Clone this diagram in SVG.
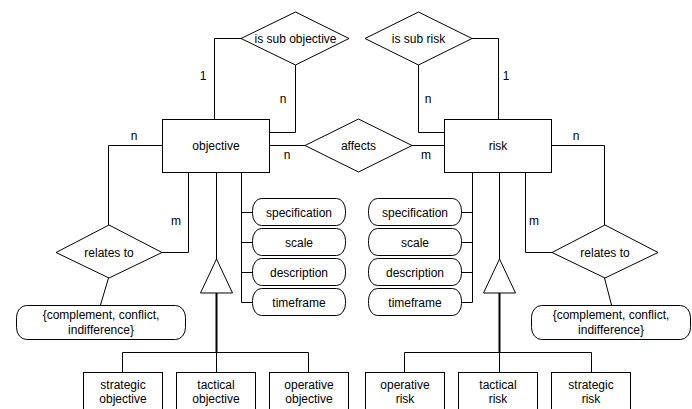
<svg xmlns="http://www.w3.org/2000/svg" width="692" height="409" viewBox="0 0 692 409">
<style>
.s{fill:#fff;stroke:#000;stroke-width:1}
.l{fill:none;stroke:#000;stroke-width:1}
.t{fill:none;stroke:#000;stroke-width:2}
text{font-family:"Liberation Sans",Arial,sans-serif;font-size:12px;fill:#000;text-anchor:middle}
</style>
<rect width="692" height="409" fill="#fff"/>
<g id="connectors">
<polyline class="l" points="241.5,38.5 214.5,38.5 214.5,119"/>
<polyline class="l" points="295.5,65 295.5,132.5 269,132.5"/>
<polyline class="l" points="472,38.5 498.5,38.5 498.5,119"/>
<polyline class="l" points="418.5,65 418.5,132.5 444,132.5"/>
<line class="l" x1="269" y1="145.5" x2="305" y2="145.5"/>
<line class="l" x1="412" y1="145.5" x2="444" y2="145.5"/>
<polyline class="l" points="162,145.5 108.5,145.5 108.5,225"/>
<polyline class="l" points="551,145.5 604.5,145.5 604.5,225"/>
<polyline class="l" points="162,252.5 188.5,252.5 188.5,172"/>
<polyline class="l" points="552,252.5 525.5,252.5 525.5,172"/>
<line class="l" x1="108.5" y1="278" x2="100.5" y2="305"/>
<line class="l" x1="604.5" y1="278" x2="611.5" y2="305"/>
<line class="l" x1="216.5" y1="172" x2="216.5" y2="259"/>
<line class="l" x1="499.5" y1="172" x2="499.5" y2="259"/>
<polyline class="l" points="241.5,172 241.5,302.5 252,302.5"/>
<line class="l" x1="241.5" y1="212.5" x2="252" y2="212.5"/>
<line class="l" x1="241.5" y1="242.5" x2="252" y2="242.5"/>
<line class="l" x1="241.5" y1="272.5" x2="252" y2="272.5"/>
<polyline class="l" points="472.5,172 472.5,302.5 461,302.5"/>
<line class="l" x1="472.5" y1="212.5" x2="461" y2="212.5"/>
<line class="l" x1="472.5" y1="242.5" x2="461" y2="242.5"/>
<line class="l" x1="472.5" y1="272.5" x2="461" y2="272.5"/>
<line class="t" x1="216.5" y1="293" x2="216.5" y2="352"/>
<line class="t" x1="499.5" y1="293" x2="499.5" y2="352"/>
<polyline class="l" points="122.5,372 122.5,352.5 308.5,352.5 308.5,372"/>
<line class="l" x1="216.5" y1="352" x2="216.5" y2="372"/>
<polyline class="l" points="404.5,372 404.5,352.5 591.5,352.5 591.5,372"/>
<line class="l" x1="499.5" y1="352" x2="499.5" y2="372"/>
</g>
<g id="labels">
<text x="203" y="80">1</text>
<text x="283" y="103">n</text>
<text x="134" y="140">n</text>
<text x="287" y="159">n</text>
<text x="176" y="225">m</text>
<text x="506" y="80">1</text>
<text x="428" y="103">n</text>
<text x="426" y="159">m</text>
<text x="576" y="140">n</text>
<text x="534" y="225">m</text>
</g>
<g id="is_sub_objective"><polygon class="s" points="241,38.5 295.5,12 349,38.5 295.5,65"/><text x="295.5" y="42.5">is sub objective</text></g>
<g id="is_sub_risk"><polygon class="s" points="365,38.5 418.5,12 472,38.5 418.5,65"/><text x="418.5" y="42.5">is sub risk</text></g>
<g id="objective"><rect class="s" x="162.5" y="119.5" width="107" height="53"/><text x="216" y="150">objective</text></g>
<g id="risk"><rect class="s" x="444.5" y="119.5" width="107" height="53"/><text x="498" y="150">risk</text></g>
<g id="affects"><polygon class="s" points="305,145.5 358.5,119 412,145.5 358.5,172"/><text x="358.5" y="150">affects</text></g>
<g id="relates_left"><polygon class="s" points="56,252.5 109,225 162,252.5 109,278"/><text x="109" y="257">relates to</text></g>
<g id="relates_right"><polygon class="s" points="552,252.5 605,225 658,252.5 605,278"/><text x="605" y="257">relates to</text></g>
<g id="annotation_left"><rect class="s" x="16.5" y="305.5" width="169" height="34" rx="10" ry="12"/><text x="101" y="319">{complement, conflict,</text><text x="101" y="334">indifference}</text></g>
<g id="annotation_right"><rect class="s" x="531.5" y="305.5" width="159" height="34" rx="10" ry="12"/><text x="611" y="319">{complement, conflict,</text><text x="611" y="334">indifference}</text></g>
<g id="spec_l"><rect class="s" x="252.5" y="198.5" width="93" height="27" rx="9" ry="12"/><text x="299" y="216.5">specification</text></g>
<g id="scale_l"><rect class="s" x="252.5" y="228.5" width="93" height="27" rx="9" ry="12"/><text x="299" y="246.5">scale</text></g>
<g id="desc_l"><rect class="s" x="252.5" y="258.5" width="93" height="27" rx="9" ry="12"/><text x="299" y="276.5">description</text></g>
<g id="time_l"><rect class="s" x="252.5" y="288.5" width="93" height="27" rx="9" ry="12"/><text x="299" y="306.5">timeframe</text></g>
<g id="spec_r"><rect class="s" x="368.5" y="198.5" width="93" height="27" rx="9" ry="12"/><text x="415" y="216.5">specification</text></g>
<g id="scale_r"><rect class="s" x="368.5" y="228.5" width="93" height="27" rx="9" ry="12"/><text x="415" y="246.5">scale</text></g>
<g id="desc_r"><rect class="s" x="368.5" y="258.5" width="93" height="27" rx="9" ry="12"/><text x="415" y="276.5">description</text></g>
<g id="time_r"><rect class="s" x="368.5" y="288.5" width="93" height="27" rx="9" ry="12"/><text x="415" y="306.5">timeframe</text></g>
<g id="isa_l"><polygon class="s" points="216.5,259 232.5,293 200.5,293"/></g>
<g id="isa_r"><polygon class="s" points="499.5,259 515.5,293 483.5,293"/></g>
<g id="strategic_objective"><rect class="s" x="83.5" y="372.5" width="79" height="45"/><text x="123" y="389">strategic</text><text x="123" y="403">objective</text></g>
<g id="tactical_objective"><rect class="s" x="176.5" y="372.5" width="79" height="45"/><text x="216" y="389">tactical</text><text x="216" y="403">objective</text></g>
<g id="operative_objective"><rect class="s" x="269.5" y="372.5" width="79" height="45"/><text x="309" y="389">operative</text><text x="309" y="403">objective</text></g>
<g id="operative_risk"><rect class="s" x="365.5" y="372.5" width="79" height="45"/><text x="405" y="389">operative</text><text x="405" y="403">risk</text></g>
<g id="tactical_risk"><rect class="s" x="458.5" y="372.5" width="79" height="45"/><text x="498" y="389">tactical</text><text x="498" y="403">risk</text></g>
<g id="strategic_risk"><rect class="s" x="551.5" y="372.5" width="79" height="45"/><text x="591" y="389">strategic</text><text x="591" y="403">risk</text></g>
</svg>
